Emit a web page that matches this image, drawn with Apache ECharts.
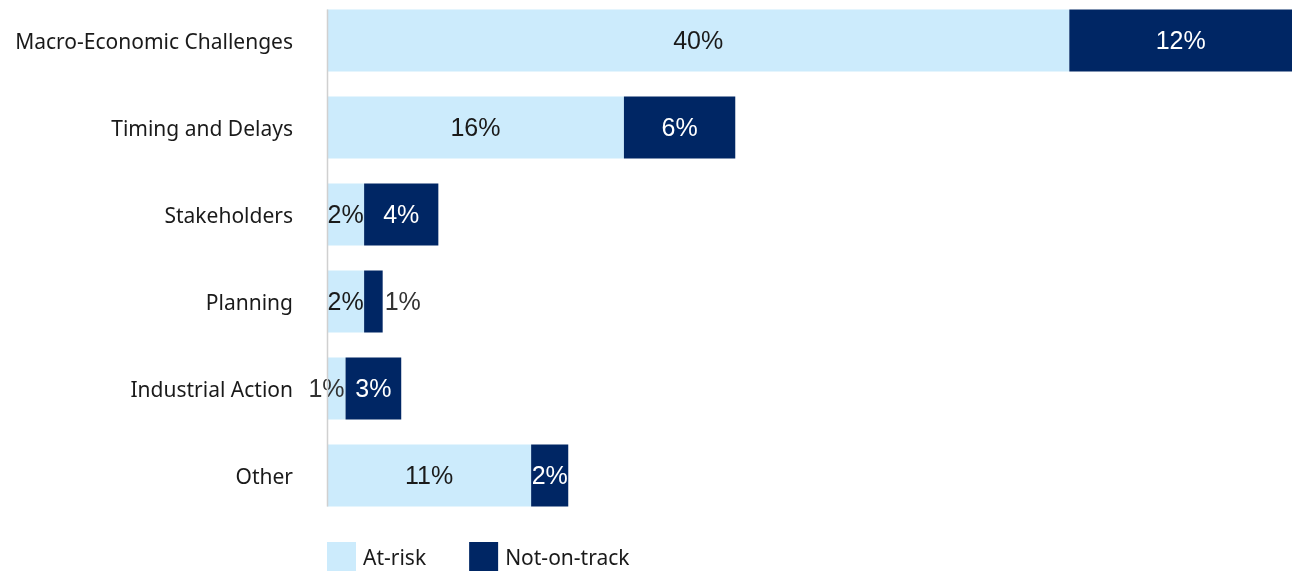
<!DOCTYPE html>
<html>
<head>
<meta charset="utf-8">
<script src="https://cdn.jsdelivr.net/npm/echarts@6/dist/echarts.min.js"></script>
<style>
  html, body { margin: 0; padding: 0; background: #fff; overflow: hidden; }
  #chart { width: 1292px; height: 575px; margin-top: -3px; }
</style>
</head>
<body>
<div id="chart"></div>
<script>
// Reasons for projects being at risk or not on track (% of projects)
const categories = ['Macro-Economic Challenges', 'Timing and Delays', 'Stakeholders', 'Planning', 'Industrial Action', 'Other'];
const atRisk = [40, 16, 2, 2, 1, 11];
const notOnTrack = [12, 6, 4, 1, 3, 2];
const seriesNames = ['At-risk', 'Not-on-track'];

const LIGHT = '#CCEBFC';
const NAVY = '#002664';
const FONT_CAT = 'Noto Sans';
const FONT_LBL = 'Liberation Sans';

const chart = echarts.init(document.getElementById('chart'), null, { renderer: 'canvas' });

// Narrow bars get their labels placed beside the bar instead of centred on it
const atRiskData = atRisk.map((v) => {
  if (v <= 1) {
    return { value: v, label: { position: 'insideRight', distance: 1, color: '#333' } };
  }
  return v;
});
const notOnTrackData = notOnTrack.map((v) => {
  if (v <= 1) {
    return { value: v, label: { position: 'right', distance: 2, color: '#333' } };
  }
  return v;
});

const valueLabel = {
  show: true,
  position: 'inside',
  formatter: '{c}%',
  fontFamily: FONT_LBL,
  fontSize: 25,
  offset: [0, 2]
};

// Text style for category and legend names, nudged slightly downward
const nameRich = { t: { fontFamily: FONT_CAT, fontSize: 21, color: '#1a1a1a', padding: [6, 0, 0, 0] } };

chart.setOption({
  animation: false,
  grid: { left: 327, right: 0, top: 0, height: 522, containLabel: false },
  legend: {
    data: seriesNames,
    left: 322,
    top: 540,
    itemWidth: 29,
    itemHeight: 29,
    itemGap: 43,
    icon: 'rect',
    formatter: (name) => '{t|' + name + '}',
    textStyle: { fontFamily: FONT_CAT, fontSize: 21, color: '#1a1a1a', padding: [0, 0, 0, 2], rich: nameRich }
  },
  xAxis: {
    type: 'value',
    min: 0,
    max: 52,
    show: false
  },
  yAxis: {
    type: 'category',
    data: categories,
    inverse: true,
    axisLine: { show: false },
    axisTick: { show: false },
    axisLabel: {
      fontFamily: FONT_CAT, fontSize: 21, color: '#1a1a1a', margin: 34,
      formatter: (v) => '{t|' + v + '}',
      rich: nameRich
    }
  },
  series: [
    {
      name: seriesNames[0],
      type: 'bar',
      stack: 'total',
      barWidth: 62,
      itemStyle: { color: LIGHT },
      label: Object.assign({}, valueLabel, { color: '#1a1a1a' }),
      data: atRiskData
    },
    {
      name: seriesNames[1],
      type: 'bar',
      stack: 'total',
      barWidth: 62,
      itemStyle: { color: NAVY },
      label: Object.assign({}, valueLabel, { color: '#ffffff' }),
      data: notOnTrackData
    }
  ]
});

// Vertical axis line running from the top of the first bar to the bottom of the last
const first = chart.convertToPixel({ seriesIndex: 0 }, [0, categories[0]]);
const last = chart.convertToPixel({ seriesIndex: 0 }, [0, categories[categories.length - 1]]);
chart.setOption({
  graphic: [{
    type: 'line',
    shape: { x1: first[0] + 0.5, y1: first[1] - 31, x2: last[0] + 0.5, y2: last[1] + 31 },
    style: { stroke: '#d0d0d0', lineWidth: 1.5 },
    z: 10
  }]
});
</script>
</body>
</html>
